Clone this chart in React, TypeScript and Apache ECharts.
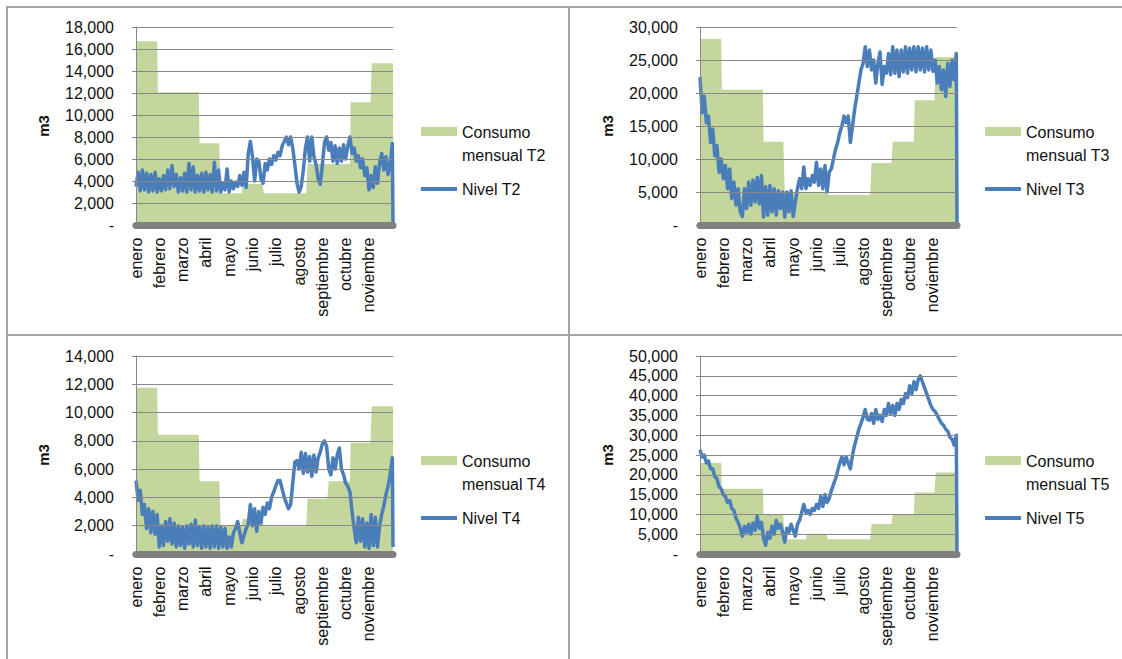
import React, { useEffect, useRef } from "react";
import * as echarts from "echarts";

// Calendar used by the daily category axis
const monthNames = ["enero", "febrero", "marzo", "abril", "mayo", "junio", "julio", "agosto", "septiembre", "octubre", "noviembre", "diciembre"];
const monthDays = [31, 28, 31, 30, 31, 30, 31, 31, 30, 31, 30, 31];

// Monthly consumption (m3), one value per month
const consumoT2 = [16700, 12060, 12060, 7430, 2880, 3730, 2880, 2880, 5550, 5550, 11150, 14700];
const consumoT3 = [28200, 20500, 20500, 12600, 4800, 4800, 4600, 4600, 9400, 12600, 18900, 25400];
const consumoT4 = [11750, 8440, 8440, 5150, 2000, 2500, 1960, 1960, 3900, 5150, 7870, 10450];
const consumoT5 = [23000, 16500, 16500, 10000, 3700, 5100, 3700, 3700, 7600, 10000, 15500, 20600];

// Tank level (m3), one reading every 3 days starting on 1 January
const nivelStep = 3;
const nivelT2 = [
  3500, 4800, 3100, 5000, 3200, 4700, 3000, 4600, 3100, 4800,
  3000, 4200, 3100, 4500, 3200, 5000, 3300, 5400, 3500, 4600,
  3000, 4300, 3100, 4700, 3000, 5600, 3200, 5300, 3000, 4500,
  3100, 4700, 3000, 4800, 3200, 4600, 3000, 5700, 3100, 5000,
  3000, 3800, 3200, 5100, 3000, 4000, 3300, 3900, 3500, 4500,
  3600, 4800, 3400, 6500, 7600, 6200, 4000, 6000, 5800, 4200,
  3800, 5600, 5000, 6000, 5500, 6300, 5900, 6600, 6300, 7200,
  7600, 8000, 7300, 8000, 7000, 5500, 3800, 3000, 3500, 5000,
  7000, 8000, 5800, 8000, 6200, 5500, 4200, 3700, 5500, 7500,
  8000, 6800, 7500, 5800, 7200, 5600, 7000, 5800, 7300, 6000,
  7200, 8000, 6500, 7000, 5800, 6300, 5200, 6000, 4500, 5200,
  3200, 4500, 3400, 5300, 3800, 5600, 6500, 5000, 6200, 4600,
  5500, 7400,
];
const nivelT3 = [
  22400, 17000, 19500, 15500, 16500, 12500, 14500, 10500, 12000, 8000,
  10000, 7000, 9000, 5500, 8500, 4000, 6500, 3000, 5500, 2000,
  1300, 5500, 2500, 6500, 3000, 6800, 3500, 7200, 3200, 7500,
  1200, 5800, 1500, 6000, 2000, 5500, 1500, 5200, 2500, 5000,
  1200, 5000, 2000, 5200, 1300, 3500, 5500, 7000, 5500, 8800,
  5500, 7000, 6000, 7500, 6500, 9500, 6000, 8500, 5500, 9000,
  5000, 8000, 8500, 10000, 11500, 12500, 14000, 15000, 16500, 15500,
  16500, 12500, 15000, 17500, 19500, 21500, 23500, 24500, 27000, 24000,
  26500, 23500, 25000, 21500, 24500, 26200, 21300, 24000, 23000, 26000,
  22800, 27000, 23000, 26500, 22500, 26500, 23200, 27000, 23000, 26800,
  23500, 27000, 23200, 27000, 23500, 26800, 23200, 27000, 23500, 26500,
  23300, 25000, 21500, 24000, 20500, 23500, 19500, 24500, 21000, 25000,
  22000, 26000,
];
const nivelT4 = [
  5200, 3800, 4500, 2800, 3500, 1800, 3200, 1500, 3000, 1400,
  2800, 500, 2000, 600, 2300, 900, 2500, 700, 2200, 500,
  2000, 600, 1900, 400, 2000, 700, 2100, 500, 2400, 600,
  1900, 400, 2000, 500, 1900, 400, 2000, 500, 2000, 400,
  1900, 500, 1800, 400, 1200, 500, 1500, 1800, 2300, 1500,
  800, 1300, 1800, 2100, 3500, 2000, 3200, 1600, 3000, 2200,
  3300, 2800, 3600, 3200, 4000, 4400, 4800, 5200, 5200, 4600,
  4000, 3600, 3200, 3500, 5000, 6500, 6600, 6000, 7200, 5700,
  7100, 5800, 6900, 5500, 7000, 5800, 6800, 7200, 7800, 8000,
  7600, 6000, 5600, 6800, 6000, 7000, 7500, 6000, 5600, 5000,
  4800, 4400, 3000, 1800, 800, 2600, 900, 2500, 500, 2200,
  400, 2800, 600, 2600, 500, 2000, 2800, 3400, 4200, 4800,
  5600, 6800,
];
const nivelT5 = [
  26300, 24500, 25000, 23000, 23500, 21500, 21500, 19500, 19000, 17000,
  16500, 15000, 14500, 13000, 13500, 11500, 11000, 9000, 8000, 6500,
  4500, 7000, 5500, 7500, 5000, 7800, 6000, 9500, 6500, 8000,
  4000, 2200, 5500, 4000, 7000, 5000, 8500, 6500, 7500, 5500,
  3000, 6500, 5500, 7500, 6000, 4500, 7500, 8500, 10500, 12500,
  10500, 11000, 10000, 11500, 11000, 12500, 11500, 14500, 12000, 15000,
  13000, 14000, 16000, 17500, 19000, 21000, 23000, 24500, 22500, 24500,
  23000, 21500, 25000, 27500, 29500, 31500, 33000, 34500, 36500, 34000,
  33800, 35500, 33000, 36500, 34000, 35000, 33500, 36500, 35000, 38000,
  35500, 37500, 35000, 38000, 36500, 39000, 38000, 40500, 39500, 42500,
  40500, 43500, 41500, 44000, 45000, 43500, 42000, 40500, 39000, 37500,
  36500, 36000, 35000, 34000, 33000, 32500, 31500, 31000, 29500, 29000,
  27500, 30000,
];
// Closing reading on the last day of the year
const nivelFin = { T2: 0, T3: 0, T4: 500, T5: 0 };

// Y scale of each tank
const yMax = { T2: 18000, T3: 30000, T4: 14000, T5: 50000 };
const yStep = { T2: 2000, T3: 5000, T4: 2000, T5: 5000 };

const tanks = [
  { key: "T2", consumo: consumoT2, nivel: nivelT2 },
  { key: "T3", consumo: consumoT3, nivel: nivelT3 },
  { key: "T4", consumo: consumoT4, nivel: nivelT4 },
  { key: "T5", consumo: consumoT5, nivel: nivelT5 },
];

// Panel origins in the 2x2 layout
const panelOrigins = [
  [0, 0],
  [564, 0],
  [0, 329],
  [564, 329],
];

const FONT = "'Liberation Sans', Arial, sans-serif";
const GREEN = "#c3d69b";
const BLUE = "#4a7ebb";
const GRID_GRAY = "#878787";
const BORDER = "#a3a3a3";

const dayLabels: string[] = monthDays.flatMap((n, m) => Array(n).fill(monthNames[m]));
const lastDay = dayLabels.length - 1;
const dailyConsumo = (monthly: number[]) => monthDays.flatMap((n, m) => Array(n).fill(monthly[m]));

function buildOption() {
  const grid: any[] = [];
  const xAxis: any[] = [];
  const yAxis: any[] = [];
  const series: any[] = [];
  const elements: any[] = [];

  tanks.forEach((t, i) => {
    const [dx, dy] = panelOrigins[i];
    grid.push({ left: 136 + dx, top: 27 + dy, width: 257, height: 198 });
    xAxis.push({
      type: "category",
      gridIndex: i,
      data: dayLabels,
      boundaryGap: false,
      offset: 3.5,
      z: 3,
      axisLine: { show: true, lineStyle: { color: "#808080", width: 7 } },
      axisTick: { show: false },
      splitLine: { show: false },
      axisLabel: {
        interval: 32,
        rotate: 90,
        margin: 9,
        showMaxLabel: false,
        fontFamily: FONT,
        fontSize: 16,
        color: "#111",
      },
    });
    xAxis.push({ type: "value", gridIndex: i, min: 0, max: lastDay, show: false });
    yAxis.push({
      type: "value",
      gridIndex: i,
      min: 0,
      max: (yMax as any)[t.key],
      interval: (yStep as any)[t.key],
      z: 3,
      name: "m3",
      nameLocation: "middle",
      nameRotate: 90,
      nameGap: 85,
      nameTextStyle: { fontFamily: FONT, fontSize: 15, fontWeight: "bold", color: "#111" },
      axisLine: { show: true, lineStyle: { color: GRID_GRAY } },
      axisTick: { show: true, length: 4, lineStyle: { color: GRID_GRAY } },
      splitLine: { show: true, lineStyle: { color: GRID_GRAY, width: 1 } },
      axisLabel: {
        margin: 22,
        fontFamily: FONT,
        fontSize: 16,
        color: "#111",
        formatter: (v: number) => (v === 0 ? "-" : v.toLocaleString("en-US")),
      },
    });
    series.push({
      name: `Consumo mensual ${t.key}`,
      type: "line",
      xAxisIndex: 2 * i,
      yAxisIndex: i,
      data: dailyConsumo(t.consumo),
      symbol: "none",
      silent: true,
      lineStyle: { width: 0, color: GREEN },
      areaStyle: { color: GREEN, opacity: 1 },
      z: 1,
    });
    const nivelData = t.nivel.map((v, k) => [k * nivelStep, v]);
    nivelData.push([lastDay, (nivelFin as any)[t.key]]);
    series.push({
      name: `Nivel ${t.key}`,
      type: "line",
      xAxisIndex: 2 * i + 1,
      yAxisIndex: i,
      data: nivelData,
      symbol: "none",
      silent: true,
      lineStyle: { width: 3.5, color: BLUE, join: "round" },
      z: 2,
    });

    // legend block
    elements.push({
      type: "rect",
      shape: { x: 421 + dx, y: 127 + dy, width: 36, height: 9 },
      style: { fill: GREEN },
    });
    elements.push({
      type: "text",
      x: 462 + dx,
      y: 121.5 + dy,
      style: {
        text: `Consumo\nmensual ${t.key}`,
        fontFamily: FONT,
        fontSize: 16,
        lineHeight: 22.5,
        fill: "#111",
        verticalAlign: "top",
      },
    });
    elements.push({
      type: "line",
      shape: { x1: 421 + dx, y1: 189 + dy, x2: 457 + dx, y2: 189 + dy },
      style: { stroke: BLUE, lineWidth: 4 },
    });
    elements.push({
      type: "text",
      x: 462 + dx,
      y: 189 + dy,
      style: { text: `Nivel ${t.key}`, fontFamily: FONT, fontSize: 16, fill: "#111", verticalAlign: "middle" },
    });
  });

  // panel frame
  const frame = [
    [6, 7, 1122, 7],
    [6, 335, 1122, 335],
    [7, 6, 7, 659],
    [569, 6, 569, 659],
  ];
  frame.forEach(([x1, y1, x2, y2]) =>
    elements.push({ type: "line", shape: { x1, y1, x2, y2 }, style: { stroke: BORDER, lineWidth: 2 } })
  );

  return {
    animation: false,
    backgroundColor: "#ffffff",
    grid,
    xAxis,
    yAxis,
    series,
    graphic: { elements },
  };
}

export default function App() {
  const ref = useRef<HTMLDivElement>(null);
  useEffect(() => {
    if (!ref.current) return;
    const chart = echarts.init(ref.current, undefined, { renderer: "svg" });
    chart.setOption(buildOption());
    return () => chart.dispose();
  }, []);
  return (
    <div
      ref={ref}
      style={{ position: "absolute", left: 0, top: 0, width: 1122, height: 659, background: "#fff" }}
    />
  );
}
